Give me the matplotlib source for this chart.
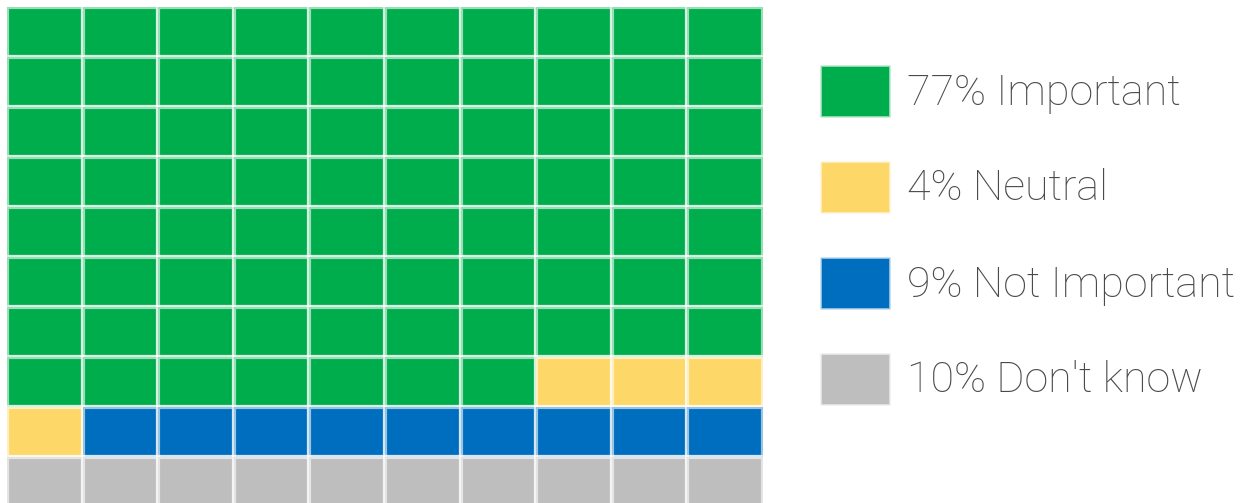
import matplotlib.pyplot as plt
from matplotlib.patches import Rectangle

# waffle data (percent of 100 cells)
labels = ['Important', 'Neutral', 'Not Important', "Don't know"]
values = [77, 4, 9, 10]
colors = ['#00ad4d', '#fdd868', '#006ebe', '#bebebe']

ncols = 10
nrows = 10

W, H = 1245, 503
fig = plt.figure(figsize=(W / 100, H / 100), dpi=100)

# waffle grid, one unit per cell
ax = fig.add_axes([7 / W, (H - 507) / H, 756 / W, 500 / H])
ax.set_xlim(0, ncols)
ax.set_ylim(nrows, 0)
ax.axis('off')

k = 0
for lab, val, col in zip(labels, values, colors):
    for _ in range(val):
        r, c = divmod(k, ncols)
        ax.add_patch(Rectangle((c, r), 1, 1, facecolor=col,
                               edgecolor=(1, 1, 1, 0.6), linewidth=3))
        k += 1

# legend drawn by hand
lax = fig.add_axes([0, 0, 1, 1])
lax.set_xlim(0, W)
lax.set_ylim(H, 0)
lax.axis('off')
y0, dy = 91, 96
for i, (lab, val, col) in enumerate(zip(labels, values, colors)):
    yc = y0 + i * dy
    lax.add_patch(Rectangle((820, yc - 26), 70, 52, facecolor=col,
                            edgecolor=(1, 1, 1, 0.6), linewidth=2))
    lax.text(907, yc + 2, f'{val}% {lab}', va='center', ha='left',
             fontsize=31, color='#4a4a4a', family='Roboto', weight='light')

fig.savefig('out.png', dpi=100)
